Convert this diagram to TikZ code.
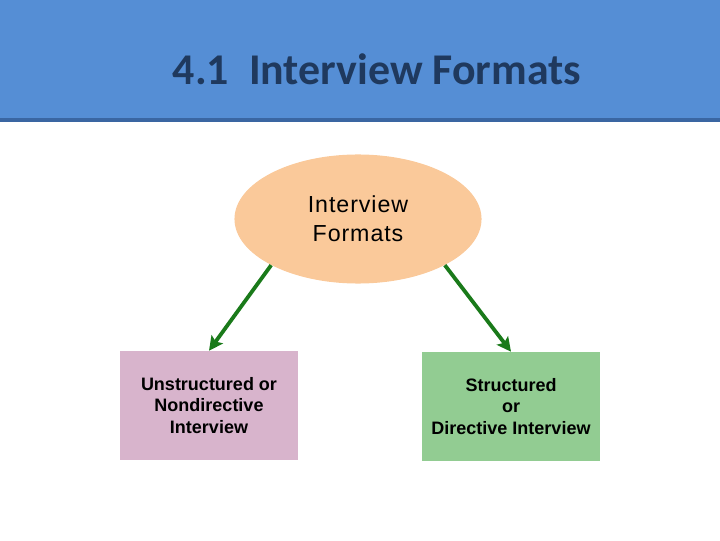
\documentclass[tikz,border=0pt]{standalone}
\usepackage{fontspec}
\setmainfont{Liberation Sans}
\newfontfamily\titlefont{Carlito}
\newfontfamily\ovalfont[LetterSpace=4]{Liberation Sans}
\usetikzlibrary{shapes.geometric,arrows.meta}
\definecolor{headblue}{RGB}{85,142,213}
\definecolor{headline}{RGB}{58,102,162}
\definecolor{titleink}{RGB}{31,57,94}
\definecolor{ovalfill}{RGB}{250,201,154}
\definecolor{pinkfill}{RGB}{216,180,204}
\definecolor{greenfill}{RGB}{146,204,146}
\definecolor{arrowgreen}{RGB}{26,122,26}
\begin{document}
\begin{tikzpicture}[x=0.025cm,y=0.025cm,>={Stealth[length=10pt,width=10pt,inset=2pt]},
  oval/.style={ellipse,fill=ovalfill,minimum width=6.175cm,minimum height=3.225cm,
    inner sep=0pt,align=center,font=\ovalfont\fontsize{16.5pt}{20.6pt}\selectfont},
  formbox/.style={rectangle,minimum width=4.45cm,minimum height=2.725cm,inner sep=0pt,
    align=center,font=\bfseries\fontsize{12.8pt}{15.3pt}\selectfont},
  link/.style={->,draw=arrowgreen,line width=2.7pt}]
\useasboundingbox (0,0) rectangle (720,540);
% header band
\fill[headblue] (0,540) rectangle (720,422);
\fill[headline] (0,422) rectangle (720,418);
\node[text=titleink,font=\titlefont\bfseries\fontsize{31.2pt}{36pt}\selectfont] (title) at (377,471) {4.1\ \ Interview Formats};
% nodes
\node[oval] (fmt) at (358,321) {Interview\\Formats};
\node[formbox,fill=pinkfill] (unstr) at (209,134.5) {Unstructured or\\Nondirective\\Interview};
\node[formbox,fill=greenfill] (str) at (511,133.5) {Structured\\or\\Directive Interview};
% arrows
\draw[link] (fmt.208) -- (unstr.north);
\draw[link] (fmt.332) -- (str.north);
\end{tikzpicture}
\end{document}
